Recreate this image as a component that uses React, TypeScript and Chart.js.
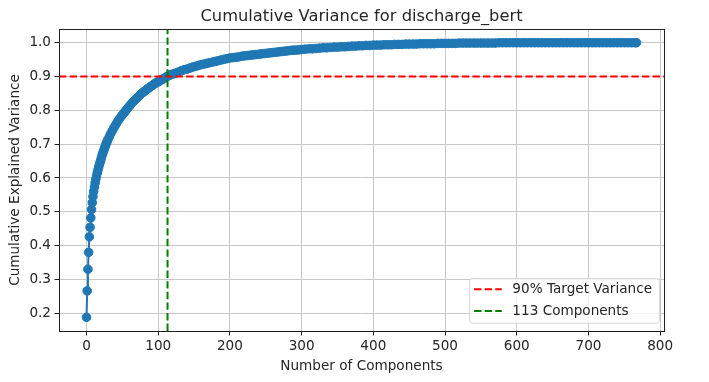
import { useEffect, useRef } from "react";
import { Chart, registerables } from "chart.js";

Chart.register(...registerables);

// ---- data ----
const componentIndex = [
  0, 1, 2, 3, 4, 5, 6, 7, 8, 9, 10, 11, 12, 13, 14, 15, 16, 17, 18, 19, 20,
  21, 22, 23, 24, 25, 26, 27, 28, 29, 30,
  32, 34, 36, 38, 40, 42, 44, 46, 48, 50, 52, 54, 56, 58, 60,
  62, 64, 66, 68, 70, 72, 74, 76, 78, 80, 82, 84, 86, 88, 90,
  92, 94, 96, 98, 100, 102, 104, 106, 108, 110, 112, 114, 116, 118, 120,
  124, 128, 132, 136, 140, 144, 148, 152, 156, 160,
  164, 168, 172, 176, 180, 184, 188, 192, 196, 200,
  204, 208, 212, 216, 220, 224, 228, 232, 236, 240,
  244, 248, 252, 256, 260, 264, 268, 272, 276, 280,
  284, 288, 292, 296, 300,
  305, 310, 315, 320, 325, 330, 335, 340, 345, 350,
  355, 360, 365, 370, 375, 380, 385, 390, 395, 400,
  405, 410, 415, 420, 425, 430, 435, 440, 445, 450,
  455, 460, 465, 470, 475, 480, 485, 490, 495, 500,
  505, 510, 515, 520, 525, 530, 535, 540, 545, 550,
  555, 560, 565, 570, 575, 580, 585, 590, 595, 600,
  605, 610, 615, 620, 625, 630, 635, 640, 645, 650,
  655, 660, 665, 670, 675, 680, 685, 690, 695, 700,
  705, 710, 715, 720, 725, 730, 735, 740, 745, 750,
  755, 760, 765, 767,
];

const cumulativeVariance = [
  0.188, 0.266, 0.330, 0.380, 0.426, 0.454, 0.482, 0.507, 0.527, 0.545, 0.560,
  0.573, 0.585, 0.596, 0.606, 0.615, 0.624, 0.632, 0.640, 0.647, 0.654,
  0.662, 0.669, 0.675, 0.681, 0.687, 0.693, 0.699, 0.704, 0.709, 0.714,
  0.723, 0.732, 0.740, 0.748, 0.755, 0.762, 0.769, 0.775, 0.781, 0.787, 0.792, 0.797, 0.803, 0.808, 0.813,
  0.818, 0.823, 0.827, 0.832, 0.836, 0.840, 0.844, 0.848, 0.852, 0.855, 0.858, 0.862, 0.865, 0.868, 0.871,
  0.874, 0.877, 0.880, 0.882, 0.885, 0.887, 0.890, 0.892, 0.894, 0.897, 0.900, 0.902, 0.904, 0.906, 0.907,
  0.910, 0.913, 0.917, 0.920, 0.922, 0.925, 0.928, 0.930, 0.933, 0.935,
  0.937, 0.939, 0.941, 0.943, 0.945, 0.947, 0.949, 0.951, 0.953, 0.955,
  0.956, 0.957, 0.958, 0.960, 0.961, 0.962, 0.963, 0.964, 0.965, 0.966,
  0.967, 0.968, 0.969, 0.970, 0.971, 0.972, 0.973, 0.974, 0.975, 0.976,
  0.977, 0.978, 0.978, 0.979, 0.980,
  0.981, 0.982, 0.982, 0.983, 0.984, 0.985, 0.985, 0.986, 0.987, 0.987,
  0.988, 0.988, 0.989, 0.990, 0.990, 0.991, 0.991, 0.992, 0.992, 0.993,
  0.993, 0.993, 0.994, 0.994, 0.994, 0.995, 0.995, 0.995, 0.996, 0.996,
  0.996, 0.996, 0.997, 0.997, 0.997, 0.997, 0.997, 0.998, 0.998, 0.998,
  0.998, 0.998, 0.998, 0.999, 0.999, 0.999, 0.999, 0.999, 0.999, 0.999,
  0.999, 0.999, 0.999, 0.999, 1.0, 1.0, 1.0, 1.0, 1.0, 1.0,
  1.0, 1.0, 1.0, 1.0, 1.0, 1.0, 1.0, 1.0, 1.0, 1.0,
  1.0, 1.0, 1.0, 1.0, 1.0, 1.0, 1.0, 1.0, 1.0, 1.0,
  1.0, 1.0, 1.0, 1.0, 1.0, 1.0, 1.0, 1.0, 1.0, 1.0,
  1.0, 1.0, 1.0, 1.0,
];

const xTickValues = [0, 100, 200, 300, 400, 500, 600, 700, 800];
const yTickValues = [0.2, 0.3, 0.4, 0.5, 0.6, 0.7, 0.8, 0.9, 1.0];

const targetVariance = 0.9;
const componentsNeeded = 113;
const legendLabels = ["90% Target Variance", "113 Components"];
const legendColors = ["#ff0000", "#008000"];

const chartTitle = "Cumulative Variance for discharge_bert";
const xAxisTitle = "Number of Components";
const yAxisTitle = "Cumulative Explained Variance";

// ---- styles ----
const FONT = "DejaVu Sans";
const TEXT = "#262626";
const SERIES = "#1f77b4";
const GRID = "#c8c8c8";
const DASH = [7.4, 3.2];
const LABEL_SIZE = 13.6;
const TITLE_SIZE = 16.3;

function paddedRange(values: number[]) {
  const lo = Math.min(...values);
  const hi = Math.max(...values);
  const m = (hi - lo) * 0.05;
  return [lo - m, hi + m];
}

const overlayPlugin = {
  id: "overlay",
  afterDatasetsDraw(chart: any) {
    const { ctx, chartArea: a, scales } = chart;
    const x = scales.x;
    const y = scales.y;
    ctx.save();
    ctx.beginPath();
    ctx.rect(a.left, a.top, a.right - a.left, a.bottom - a.top);
    ctx.clip();
    ctx.lineWidth = 2;
    ctx.setLineDash(DASH);
    const py = y.getPixelForValue(targetVariance);
    ctx.strokeStyle = legendColors[0];
    ctx.beginPath();
    ctx.moveTo(a.left, py);
    ctx.lineTo(a.right, py);
    ctx.stroke();
    const px = x.getPixelForValue(componentsNeeded);
    ctx.strokeStyle = legendColors[1];
    ctx.beginPath();
    ctx.moveTo(px, a.bottom);
    ctx.lineTo(px, a.top);
    ctx.stroke();
    ctx.restore();
  },
  afterDraw(chart: any) {
    const { ctx, chartArea: a } = chart;
    ctx.save();
    // spines
    ctx.setLineDash([]);
    ctx.strokeStyle = "#222";
    ctx.lineWidth = 1;
    ctx.strokeRect(
      Math.round(a.left) + 0.5,
      Math.round(a.top) + 0.5,
      Math.round(a.right) - Math.round(a.left),
      Math.round(a.bottom) - Math.round(a.top)
    );
    // title
    ctx.fillStyle = TEXT;
    ctx.font = `${TITLE_SIZE}px "${FONT}"`;
    ctx.textAlign = "center";
    ctx.textBaseline = "alphabetic";
    ctx.fillText(chartTitle, (a.left + a.right) / 2, a.top - 8.4);

    // legend
    ctx.font = `${LABEL_SIZE}px "${FONT}"`;
    const textW = Math.max(...legendLabels.map((t) => ctx.measureText(t).width));
    const boxW = 43.3 + textW + 7;
    const boxH = 44.7;
    const boxRight = a.right - 5;
    const boxBottom = a.bottom - 8.3;
    const boxLeft = boxRight - boxW;
    const boxTop = boxBottom - boxH;
    ctx.beginPath();
    (ctx as any).roundRect(boxLeft + 0.5, boxTop + 0.5, boxW, boxH, 3);
    ctx.fillStyle = "rgba(255,255,255,0.8)";
    ctx.fill();
    ctx.strokeStyle = "rgba(204,204,204,0.8)";
    ctx.stroke();
    legendLabels.forEach((label, i) => {
      const cy = boxTop + 11.3 + i * 21.7;
      ctx.setLineDash(DASH);
      ctx.lineWidth = 2;
      ctx.strokeStyle = legendColors[i];
      ctx.beginPath();
      ctx.moveTo(boxLeft + 5, cy);
      ctx.lineTo(boxLeft + 32.7, cy);
      ctx.stroke();
      ctx.setLineDash([]);
      ctx.fillStyle = TEXT;
      ctx.textAlign = "left";
      ctx.textBaseline = "middle";
      ctx.fillText(label, boxLeft + 43.3, cy + 0.5);
    });
    ctx.restore();
  },
};

export default function App() {
  const canvasRef = useRef<HTMLCanvasElement | null>(null);

  useEffect(() => {
    const canvas = canvasRef.current;
    if (!canvas) return;
    Chart.defaults.font.family = FONT;
    const [xMin, xMax] = paddedRange(componentIndex);
    const [yMin, yMax] = paddedRange(cumulativeVariance);
    const points = componentIndex.map((c, i) => ({ x: c, y: cumulativeVariance[i] }));

    const chart = new Chart(canvas, {
      type: "line",
      data: {
        datasets: [
          {
            data: points,
            borderColor: SERIES,
            backgroundColor: SERIES,
            borderWidth: 2,
            pointRadius: 4.3,
            pointBorderWidth: 1,
            pointBackgroundColor: SERIES,
            pointBorderColor: SERIES,
            tension: 0,
            fill: false,
          },
        ],
      },
      options: {
        animation: false,
        responsive: false,
        maintainAspectRatio: false,
        devicePixelRatio: 1,
        layout: { padding: { top: 29, right: 45, bottom: 0, left: 0 } },
        plugins: {
          legend: { display: false },
          title: { display: false },
          tooltip: { enabled: false },
        },
        scales: {
          x: {
            type: "linear",
            min: xMin,
            max: xMax,
            afterBuildTicks: (s: any) => {
              s.ticks = xTickValues.map((value) => ({ value }));
            },
            afterFit: (s: any) => {
              s.height = 51;
            },
            ticks: {
              autoSkip: false,
              maxRotation: 0,
              padding: 2.5,
              color: TEXT,
              font: { size: LABEL_SIZE, family: FONT },
              callback: (v: any) => String(v),
            },
            grid: {
              color: GRID,
              lineWidth: 1,
              drawTicks: true,
              tickLength: 4.5,
              tickColor: "#222",
              tickWidth: 1,
            },
            border: { display: false },
            title: {
              display: true,
              text: xAxisTitle,
              color: TEXT,
              font: { size: LABEL_SIZE, family: FONT },
              padding: { top: 0, bottom: 7 },
            },
          },
          y: {
            type: "linear",
            min: yMin,
            max: yMax,
            afterBuildTicks: (s: any) => {
              s.ticks = yTickValues.map((value) => ({ value }));
            },
            afterFit: (s: any) => {
              s.width = 59;
            },
            ticks: {
              autoSkip: false,
              padding: 3.5,
              color: TEXT,
              font: { size: LABEL_SIZE, family: FONT },
              callback: (v: any) => Number(v).toFixed(1),
            },
            grid: {
              color: GRID,
              lineWidth: 1,
              drawTicks: true,
              tickLength: 4.5,
              tickColor: "#222",
              tickWidth: 1,
            },
            border: { display: false },
            title: {
              display: true,
              text: yAxisTitle,
              color: TEXT,
              font: { size: LABEL_SIZE, family: FONT },
              padding: { top: 7.6, bottom: 0 },
            },
          },
        },
      },
      plugins: [overlayPlugin],
    } as any);

    return () => chart.destroy();
  }, []);

  return (
    <div
      style={{
        position: "fixed",
        left: 0,
        top: 0,
        width: 709,
        height: 382,
        background: "#fff",
      }}
    >
      <canvas
        ref={canvasRef}
        width={709}
        height={382}
        style={{ display: "block", width: 709, height: 382 }}
      />
    </div>
  );
}
